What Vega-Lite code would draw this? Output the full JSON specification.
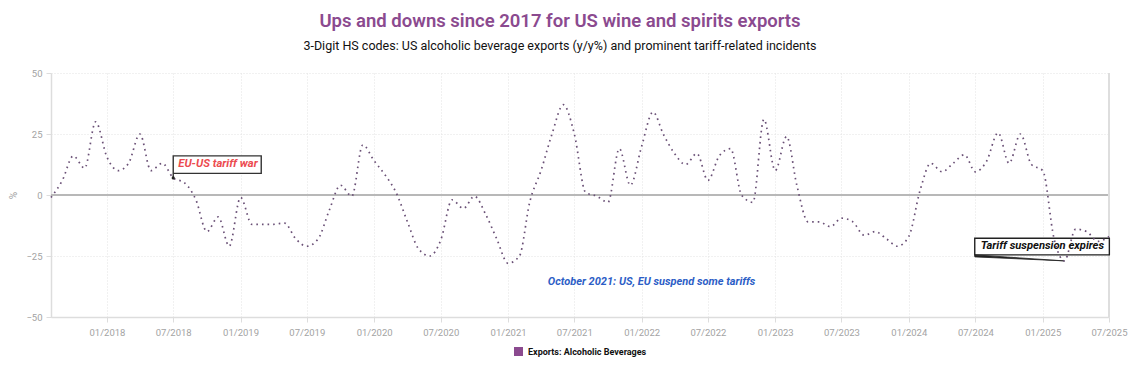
{
  "$schema": "https://vega.github.io/schema/vega-lite/v6.json",
  "width": 1058,
  "height": 244,
  "autosize": {"type": "none"},
  "padding": {"left": 51, "top": 73, "right": 25, "bottom": 70},
  "background": "white",
  "config": {
    "view": {"stroke": null},
    "font": "Roboto",
    "axis": {"labelFont": "Roboto", "titleFont": "Roboto"}
  },
  "title": {
    "text": "Ups and downs since 2017 for US wine and spirits exports",
    "subtitle": "3-Digit HS codes: US alcoholic beverage exports (y/y%) and prominent tariff-related incidents",
    "anchor": "middle",
    "dx": -20,
    "color": "#8b4a8f",
    "font": "Roboto",
    "fontSize": 18.5,
    "fontWeight": 600,
    "subtitleColor": "#111111",
    "subtitleFont": "Roboto",
    "subtitleFontSize": 12.5,
    "subtitlePadding": 9,
    "offset": 16
  },
  "data": {
    "values": [
      {"date": "2017-08-01", "value": -1},
      {"date": "2017-09-01", "value": 6},
      {"date": "2017-10-01", "value": 16},
      {"date": "2017-11-01", "value": 11},
      {"date": "2017-12-01", "value": 30},
      {"date": "2018-01-01", "value": 15.5},
      {"date": "2018-02-01", "value": 10},
      {"date": "2018-03-01", "value": 13},
      {"date": "2018-04-01", "value": 25},
      {"date": "2018-05-01", "value": 10},
      {"date": "2018-06-01", "value": 13},
      {"date": "2018-07-01", "value": 7},
      {"date": "2018-08-01", "value": 5},
      {"date": "2018-09-01", "value": -2},
      {"date": "2018-10-01", "value": -15},
      {"date": "2018-11-01", "value": -9},
      {"date": "2018-12-01", "value": -21},
      {"date": "2019-01-01", "value": -1},
      {"date": "2019-02-01", "value": -12},
      {"date": "2019-03-01", "value": -12},
      {"date": "2019-04-01", "value": -12},
      {"date": "2019-05-01", "value": -11.5},
      {"date": "2019-06-01", "value": -18},
      {"date": "2019-07-01", "value": -21},
      {"date": "2019-08-01", "value": -18},
      {"date": "2019-09-01", "value": -6},
      {"date": "2019-10-01", "value": 4},
      {"date": "2019-11-01", "value": -0.5},
      {"date": "2019-12-01", "value": 20.5},
      {"date": "2020-01-01", "value": 14},
      {"date": "2020-02-01", "value": 8},
      {"date": "2020-03-01", "value": 1},
      {"date": "2020-04-01", "value": -11},
      {"date": "2020-05-01", "value": -22},
      {"date": "2020-06-01", "value": -25},
      {"date": "2020-07-01", "value": -18.5},
      {"date": "2020-08-01", "value": -2},
      {"date": "2020-09-01", "value": -5.5},
      {"date": "2020-10-01", "value": -0.5},
      {"date": "2020-11-01", "value": -8},
      {"date": "2020-12-01", "value": -18},
      {"date": "2021-01-01", "value": -28},
      {"date": "2021-02-01", "value": -25},
      {"date": "2021-03-01", "value": -3},
      {"date": "2021-04-01", "value": 10},
      {"date": "2021-05-01", "value": 25},
      {"date": "2021-06-01", "value": 37},
      {"date": "2021-07-01", "value": 25},
      {"date": "2021-08-01", "value": 1},
      {"date": "2021-09-01", "value": -0.5},
      {"date": "2021-10-01", "value": -3},
      {"date": "2021-11-01", "value": 19},
      {"date": "2021-12-01", "value": 4},
      {"date": "2022-01-01", "value": 20},
      {"date": "2022-02-01", "value": 34},
      {"date": "2022-03-01", "value": 25},
      {"date": "2022-04-01", "value": 17},
      {"date": "2022-05-01", "value": 12.5},
      {"date": "2022-06-01", "value": 17},
      {"date": "2022-07-01", "value": 6},
      {"date": "2022-08-01", "value": 16},
      {"date": "2022-09-01", "value": 19},
      {"date": "2022-10-01", "value": 0},
      {"date": "2022-11-01", "value": -3},
      {"date": "2022-12-01", "value": 31},
      {"date": "2023-01-01", "value": 10},
      {"date": "2023-02-01", "value": 24},
      {"date": "2023-03-01", "value": 4},
      {"date": "2023-04-01", "value": -11},
      {"date": "2023-05-01", "value": -11},
      {"date": "2023-06-01", "value": -13},
      {"date": "2023-07-01", "value": -9.5},
      {"date": "2023-08-01", "value": -11},
      {"date": "2023-09-01", "value": -16.5},
      {"date": "2023-10-01", "value": -15},
      {"date": "2023-11-01", "value": -18},
      {"date": "2023-12-01", "value": -21},
      {"date": "2024-01-01", "value": -17},
      {"date": "2024-02-01", "value": 2},
      {"date": "2024-03-01", "value": 13},
      {"date": "2024-04-01", "value": 9.5},
      {"date": "2024-05-01", "value": 13},
      {"date": "2024-06-01", "value": 16.5},
      {"date": "2024-07-01", "value": 9.5},
      {"date": "2024-08-01", "value": 14},
      {"date": "2024-09-01", "value": 25.5},
      {"date": "2024-10-01", "value": 13},
      {"date": "2024-11-01", "value": 25},
      {"date": "2024-12-01", "value": 12.5},
      {"date": "2025-01-01", "value": 10},
      {"date": "2025-02-01", "value": -18},
      {"date": "2025-03-01", "value": -27},
      {"date": "2025-04-01", "value": -14},
      {"date": "2025-05-01", "value": -15},
      {"date": "2025-06-01", "value": -19},
      {"date": "2025-07-01", "value": -17}
    ]
  },
  "layer": [
    {
      "mark": {"type": "rule", "color": "#b8b8b8", "strokeWidth": 1.5},
      "encoding": {"y": {"datum": 0, "type": "quantitative"}}
    },
    {
      "mark": {"type": "rule", "color": "#dedede", "strokeWidth": 1.5},
      "encoding": {"x": {"datum": {"year": 2025, "month": 7, "date": 1, "utc": true}, "type": "temporal"}}
    },
    {
      "transform": [{"filter": {"field": "date", "equal": {"year": 2018, "month": 7, "date": 1, "utc": true}}}],
      "mark": {"type": "point", "shape": "M0,-22H88V-4.5H0Z M0,-4.5V0", "size": 4, "filled": true, "fill": "white", "stroke": "#333333", "strokeWidth": 1.4, "opacity": 1},
      "encoding": {
        "x": {"field": "date", "type": "temporal"},
        "y": {"field": "value", "type": "quantitative"}
      }
    },
    {
      "transform": [{"filter": {"field": "date", "equal": {"year": 2025, "month": 3, "date": 1, "utc": true}}}],
      "mark": {"type": "point", "shape": "M-89.6,-22.6H45V-6H-89.6Z", "size": 4, "filled": true, "fill": "white", "stroke": "#222222", "strokeWidth": 1.4, "opacity": 1},
      "encoding": {
        "x": {"field": "date", "type": "temporal"},
        "y": {"field": "value", "type": "quantitative"}
      }
    },
    {
      "transform": [{"filter": {"field": "date", "equal": {"year": 2025, "month": 3, "date": 1, "utc": true}}}],
      "mark": {"type": "point", "shape": "M-89.6,-6L0,0L-89.6,-4Z", "size": 4, "filled": true, "fill": "#222222", "stroke": "#222222", "strokeWidth": 0.8, "opacity": 1},
      "encoding": {
        "x": {"field": "date", "type": "temporal"},
        "y": {"field": "value", "type": "quantitative"}
      }
    },
    {
      "mark": {"type": "line", "interpolate": "monotone", "strokeDash": [1.6, 4], "strokeWidth": 1.7},
      "encoding": {
        "x": {
          "field": "date",
          "type": "temporal",
          "scale": {"type": "utc", "domain": [{"year": 2017, "month": 8, "date": 1, "utc": true}, {"year": 2025, "month": 7, "date": 1, "utc": true}]},
          "axis": {
            "title": null,
            "values": [
              {"year": 2018, "month": 1, "date": 1, "utc": true},
              {"year": 2018, "month": 7, "date": 1, "utc": true},
              {"year": 2019, "month": 1, "date": 1, "utc": true},
              {"year": 2019, "month": 7, "date": 1, "utc": true},
              {"year": 2020, "month": 1, "date": 1, "utc": true},
              {"year": 2020, "month": 7, "date": 1, "utc": true},
              {"year": 2021, "month": 1, "date": 1, "utc": true},
              {"year": 2021, "month": 7, "date": 1, "utc": true},
              {"year": 2022, "month": 1, "date": 1, "utc": true},
              {"year": 2022, "month": 7, "date": 1, "utc": true},
              {"year": 2023, "month": 1, "date": 1, "utc": true},
              {"year": 2023, "month": 7, "date": 1, "utc": true},
              {"year": 2024, "month": 1, "date": 1, "utc": true},
              {"year": 2024, "month": 7, "date": 1, "utc": true},
              {"year": 2025, "month": 1, "date": 1, "utc": true},
              {"year": 2025, "month": 7, "date": 1, "utc": true}
            ],
            "format": "%m/%Y",
            "labelColor": "#a3a3a3",
            "labelFontSize": 9.5,
            "labelPadding": 5,
            "labelFlush": false,
            "labelOverlap": false,
            "tickColor": "#dddddd",
            "tickSize": 5,
            "domainColor": "#dddddd",
            "domainWidth": 1.5,
            "grid": true,
            "gridColor": "#e2e2e2",
            "gridDash": [1, 2]
          }
        },
        "y": {
          "field": "value",
          "type": "quantitative",
          "scale": {"domain": [-50, 50], "nice": false},
          "axis": {
            "title": "%",
            "titleColor": "#a3a3a3",
            "titleFontWeight": "normal",
            "titleFontSize": 10,
            "titlePadding": 7,
            "values": [-50, -25, 0, 25, 50],
            "labelColor": "#a3a3a3",
            "labelFontSize": 9.5,
            "labelPadding": 4,
            "tickColor": "#dddddd",
            "tickSize": 5,
            "domainColor": "#dddddd",
            "domainWidth": 1.5,
            "grid": true,
            "gridColor": "#e2e2e2",
            "gridDash": [1, 2]
          }
        },
        "color": {
          "datum": "Exports: Alcoholic Beverages",
          "type": "nominal",
          "scale": {"range": ["#6a5076"]},
          "legend": {
            "title": null,
            "orient": "none",
            "legendX": 463,
            "legendY": 274,
            "symbolType": "square",
            "symbolSize": 81,
            "labelFont": "Roboto",
            "labelFontWeight": "bold",
            "labelFontSize": 9,
            "labelColor": "#111111",
            "labelOffset": 5,
            "encode": {
              "symbols": {
                "update": {
                  "fill": {"value": "#8b4a8f"},
                  "stroke": {"value": "#8b4a8f"},
                  "strokeWidth": {"value": 0},
                  "strokeDash": {"value": [1, 0]},
                  "opacity": {"value": 1}
                }
              }
            }
          }
        }
      }
    },
    {
      "transform": [{"filter": {"field": "date", "equal": {"year": 2018, "month": 7, "date": 1, "utc": true}}}],
      "mark": {"type": "point", "filled": true, "shape": "circle", "size": 10, "color": "#222222", "opacity": 1},
      "encoding": {
        "x": {"field": "date", "type": "temporal"},
        "y": {"field": "value", "type": "quantitative"}
      }
    },
    {
      "transform": [{"filter": {"field": "date", "equal": {"year": 2018, "month": 7, "date": 1, "utc": true}}}],
      "mark": {"type": "text", "text": "EU-US tariff war", "align": "left", "baseline": "middle", "dx": 5, "dy": -13.5, "font": "Roboto", "fontSize": 11.3, "fontWeight": "bold", "fontStyle": "italic", "color": "#ec4b50"},
      "encoding": {
        "x": {"field": "date", "type": "temporal"},
        "y": {"field": "value", "type": "quantitative"}
      }
    },
    {
      "transform": [{"filter": {"field": "date", "equal": {"year": 2025, "month": 3, "date": 1, "utc": true}}}],
      "mark": {"type": "text", "text": "Tariff suspension expires", "align": "center", "baseline": "middle", "dx": -22, "dy": -15, "font": "Roboto", "fontSize": 11.2, "fontWeight": "bold", "fontStyle": "italic", "color": "#111111"},
      "encoding": {
        "x": {"field": "date", "type": "temporal"},
        "y": {"field": "value", "type": "quantitative"}
      }
    },
    {
      "transform": [{"filter": {"field": "date", "equal": {"year": 2021, "month": 10, "date": 1, "utc": true}}}],
      "mark": {"type": "text", "text": "October 2021: US, EU suspend some tariffs", "align": "center", "baseline": "middle", "dx": 43.6, "dy": 79.7, "font": "Roboto", "fontSize": 11, "fontWeight": "bold", "fontStyle": "italic", "color": "#2d5ec6"},
      "encoding": {
        "x": {"field": "date", "type": "temporal"},
        "y": {"field": "value", "type": "quantitative"}
      }
    }
  ]
}
